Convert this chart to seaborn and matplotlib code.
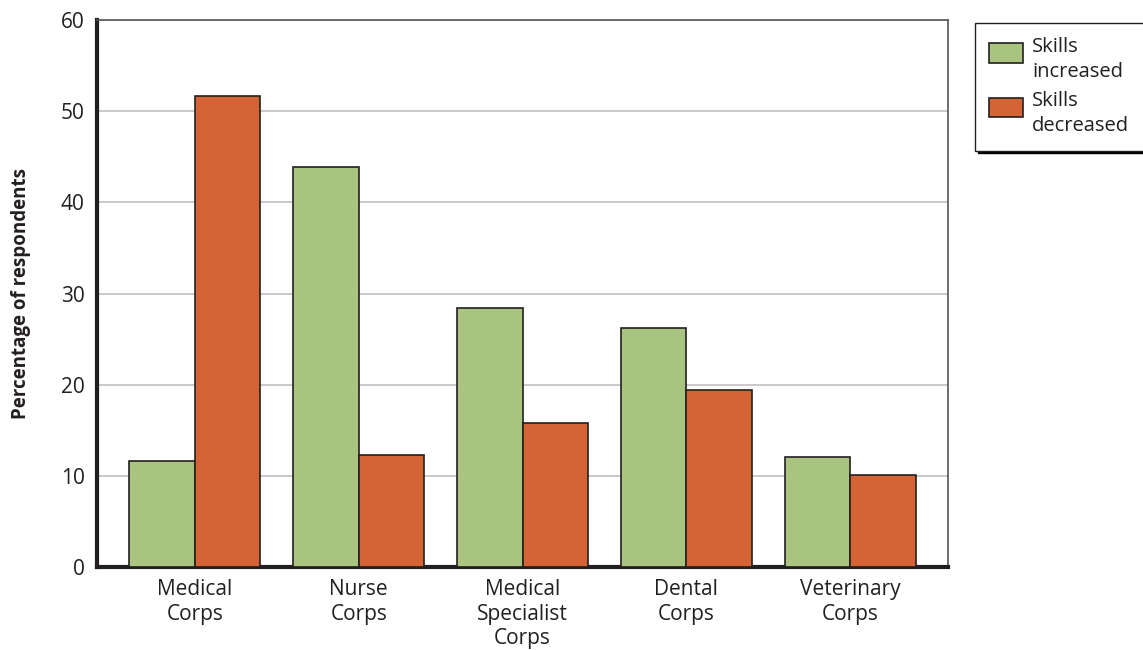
import pandas as pd
import matplotlib.pyplot as plt
import matplotlib.patches as mpatches
from matplotlib.legend_handler import HandlerPatch
import seaborn as sns

categories = ['Medical\nCorps', 'Nurse\nCorps', 'Medical\nSpecialist\nCorps', 'Dental\nCorps', 'Veterinary\nCorps']
skills_increased = [11.6, 43.9, 28.4, 26.2, 12.1]
skills_decreased = [51.7, 12.3, 15.8, 19.4, 10.1]
series = ['Skills\nincreased', 'Skills\ndecreased']
yticks = [0, 10, 20, 30, 40, 50, 60]

df = pd.DataFrame({
    'corps': categories * 2,
    'value': skills_increased + skills_decreased,
    'series': [series[0]] * 5 + [series[1]] * 5,
})

sns.set_style('white')
plt.rcParams['font.family'] = ['Open Sans', 'DejaVu Sans']

fig = plt.figure(figsize=(11.43, 6.5), dpi=100)
ax = fig.add_axes([0.0849, 0.1277, 0.7445, 0.8413])

sns.barplot(data=df, x='corps', y='value', hue='series', ax=ax,
            palette=['#A9C47F', '#D46435'], saturation=1, width=0.8,
            edgecolor='#231f20', linewidth=1.2, zorder=3, legend=True)

ax.set_xlim(-0.5976, 4.5976)
ax.set_ylim(0, 60)
ax.set_yticks(yticks)
ax.yaxis.grid(True, color='#c0c0c0', linewidth=1.2, zorder=0)
ax.set_axisbelow(True)
ax.tick_params(axis='both', length=0, labelsize=15, colors='#231f20', pad=9)
ax.set_xlabel('')
ax.set_ylabel('Percentage of respondents', fontsize=13.5, fontweight='bold',
              color='#231f20', labelpad=21)

for side in ['left', 'bottom']:
    ax.spines[side].set_color('#231f20')
    ax.spines[side].set_linewidth(3)
for side in ['top', 'right']:
    ax.spines[side].set_color('#555555')
    ax.spines[side].set_linewidth(1.2)


# legend swatch sits next to the first line of the two-line label
def top_patch(legend, orig_handle, xdescent, ydescent, width, height, fontsize):
    h = 0.95 * fontsize
    return mpatches.Rectangle((-xdescent, -ydescent + height - h - 0.1 * fontsize), width, h)


handles, labels = ax.get_legend_handles_labels()
ax.legend_.remove()
leg = fig.legend(handles, labels, loc='upper left', bbox_to_anchor=(0.853, 0.965),
                 fontsize=14.5, frameon=True, fancybox=False,
                 shadow={'color': 'black', 'alpha': 1},
                 handler_map={mpatches.Rectangle: HandlerPatch(patch_func=top_patch)},
                 handlelength=1.7, handleheight=2.6, handletextpad=0.45,
                 labelspacing=0.45, borderpad=0.7, borderaxespad=0)
leg.get_frame().set_edgecolor('#231f20')
leg.get_frame().set_linewidth(1)
for t in leg.get_texts():
    t.set_color('#231f20')
    t.set_linespacing(1.35)

fig.savefig('out.png', dpi=100)
